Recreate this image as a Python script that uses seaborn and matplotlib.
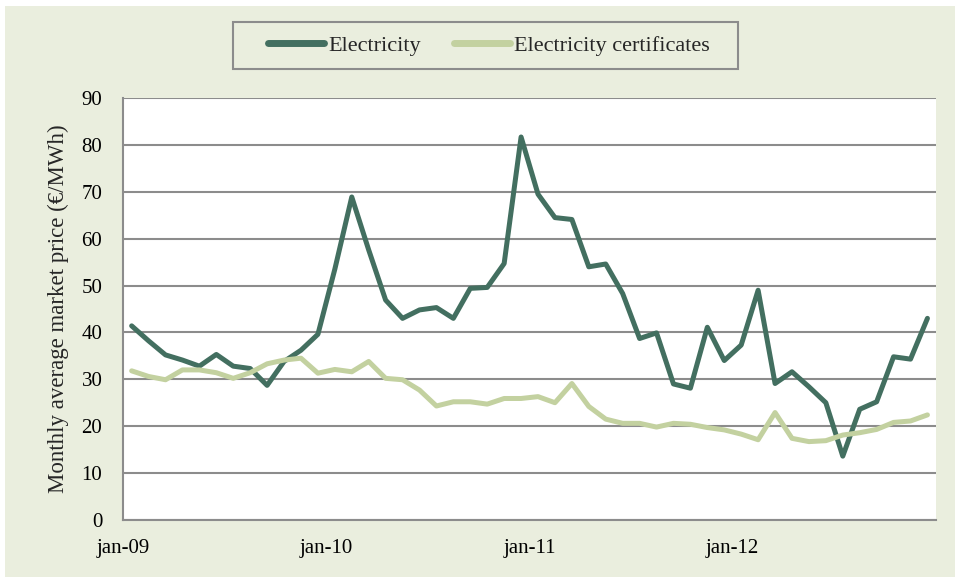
import numpy as np
import pandas as pd
import seaborn as sns
import matplotlib.pyplot as plt
from matplotlib.patches import Rectangle

# Monthly average market prices, jan-09 .. dec-12 (EUR/MWh)
months = pd.date_range('2009-01-01', '2012-12-01', freq='MS')
electricity = [41.4, 38.2, 35.2, 34.1, 32.8, 35.3, 32.8, 32.3, 28.7, 33.8, 36.2, 39.6,
               53.5, 68.9, 57.6, 46.9, 43.0, 44.8, 45.3, 43.0, 49.4, 49.6, 54.7, 81.7,
               69.5, 64.5, 64.1, 54.0, 54.6, 48.3, 38.7, 39.9, 29.0, 28.1, 41.1, 34.0,
               37.3, 49.0, 29.1, 31.6, 28.4, 25.0, 13.6, 23.6, 25.2, 34.8, 34.3, 43.0]
certificates = [31.8, 30.6, 29.9, 32.0, 32.0, 31.4, 30.2, 31.4, 33.3, 34.1, 34.5, 31.3,
                32.1, 31.6, 33.8, 30.2, 29.9, 27.7, 24.3, 25.2, 25.2, 24.7, 25.9, 25.9,
                26.3, 25.0, 29.1, 24.2, 21.5, 20.6, 20.6, 19.8, 20.6, 20.4, 19.7, 19.2,
                18.3, 17.1, 22.9, 17.4, 16.7, 16.9, 18.1, 18.6, 19.3, 20.8, 21.1, 22.4]
tick_labels = ['jan-09', 'jan-10', 'jan-11', 'jan-12']

df = pd.DataFrame({
    'pos': np.arange(len(months)) + 0.5,
    'Electricity': electricity,
    'Electricity certificates': certificates,
})
long = df.melt(id_vars='pos', var_name='series', value_name='price')

sns.set_style('white')
plt.rcParams['font.family'] = ['Liberation Serif', 'DejaVu Serif']

bg = '#EAEEDE'
grey = '#8C8C8C'
W, H = 955, 577
fig, ax = plt.subplots(figsize=(9.55, 5.77), dpi=100)
fig.patch.set_facecolor('white')
# coloured panel, with a thin white margin at top and left
fig.patches.append(Rectangle((5 / W, -0.05), 1.1, 1.05 - 6 / H, transform=fig.transFigure,
                             facecolor=bg, edgecolor='none', zorder=-10))
fig.subplots_adjust(left=0.129, right=0.980, top=0.830, bottom=0.099)

sns.lineplot(data=long, x='pos', y='price', hue='series',
             palette=['#436F60', '#C3D1A0'], linewidth=3.6, ax=ax,
             solid_capstyle='round', solid_joinstyle='round')

ax.set_xlim(0, 48)
ax.set_ylim(0, 90)
ax.set_yticks(range(0, 91, 10))
ax.set_xticks([0, 12, 24, 36, 48])
ax.set_xticklabels(tick_labels + [''])
ax.yaxis.grid(True, color=grey, linewidth=1.5)
ax.set_axisbelow(True)
for s in ['top', 'right']:
    ax.spines[s].set_visible(False)
for s in ['left', 'bottom']:
    ax.spines[s].set_color(grey)
    ax.spines[s].set_linewidth(1.5)
ax.tick_params(axis='both', length=6, width=1.5, color=grey,
               labelsize=15, labelcolor='black', direction='out')
ax.tick_params(axis='x', pad=8)
ax.tick_params(axis='y', pad=9)
ax.set_xlabel('')
ax.set_ylabel('Monthly average market price (€/MWh)', fontsize=16.5, labelpad=9)

# legend box drawn separately so its padding matches the reference
fig.patches.append(Rectangle((233 / W, 1 - 69 / H), 505 / W, 47 / H,
                             transform=fig.transFigure, facecolor=bg,
                             edgecolor=grey, linewidth=1.5, zorder=-5))
leg = ax.legend(loc='center', bbox_to_anchor=(489 / W, 1 - 45.5 / H),
                bbox_transform=fig.transFigure, ncol=2, frameon=False,
                fontsize=16, handlelength=2.5, handletextpad=0.2,
                columnspacing=1.5, borderpad=0, title=None)
for line in leg.get_lines():
    line.set_linewidth(5)

plt.savefig('out.png', dpi=100, facecolor='white')
